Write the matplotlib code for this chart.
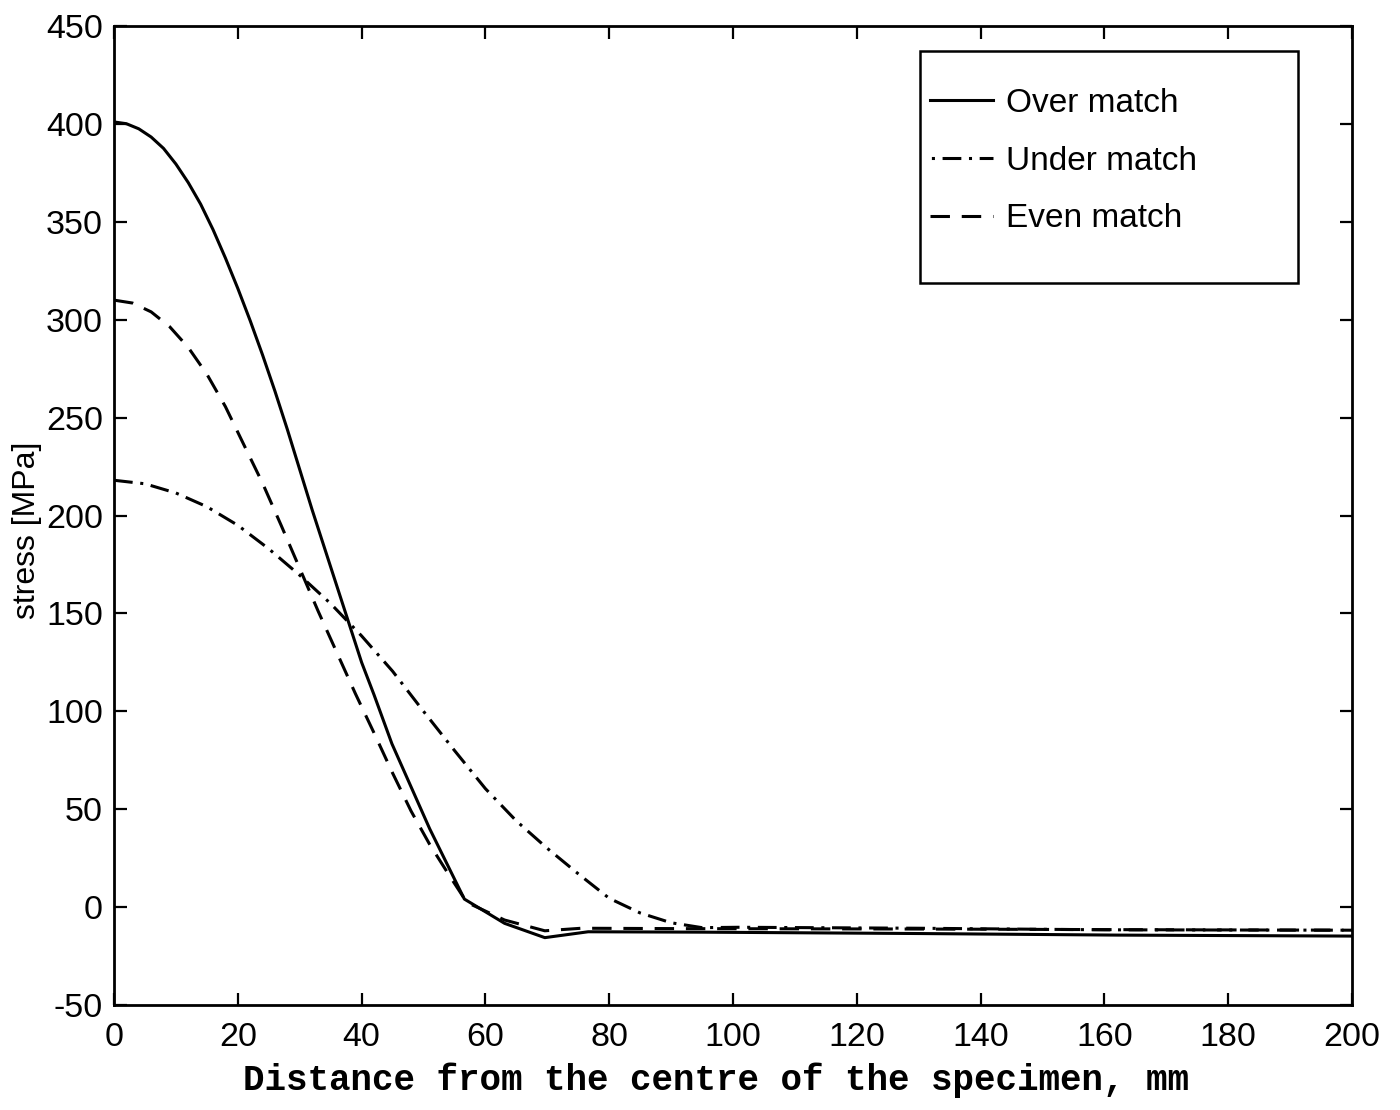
import matplotlib
matplotlib.use("Agg")
import matplotlib.pyplot as plt
from matplotlib.lines import Line2D
from matplotlib.patches import Rectangle

plt.rcParams['font.family'] = ['Liberation Sans', 'DejaVu Sans']
plt.rcParams['axes.unicode_minus'] = False
plt.rcParams['lines.scale_dashes'] = False

# ---- data ----
over_x = [0, 2, 4, 6, 8, 10, 12, 14, 16, 18, 20, 22, 24, 26, 28, 30, 32, 34, 36, 38,
          40, 42, 44.9, 51, 56.6, 63.1, 69.6, 76.6, 95, 130, 162, 200]
over_y = [401, 400.1, 397.5, 393.3, 387.5, 379.5, 370, 359, 346, 331.5, 316, 299.5, 282,
          263.5, 244, 223.5, 203, 183.5, 164, 144.5, 125, 108.5, 83.4, 40, 4.1, -8.3,
          -15.6, -12.6, -12.8, -13.5, -14.3, -14.8]

under_x = [0, 5, 10, 15, 20, 25, 30, 35, 40, 45, 50, 55, 60, 65, 70, 75, 80, 85, 90, 95,
           101, 130, 160, 200]
under_y = [218, 216.2, 211.5, 204.5, 195, 183, 169.5, 155, 138.5, 120.5, 100, 80, 60.5,
           44, 30, 17, 4.5, -3, -8, -10.5, -10.3, -10.8, -11.6, -11.8]

even_x = [0, 3, 6, 9, 12, 15, 18, 21, 24, 27, 30, 33, 36, 39, 42, 45, 48, 51, 54, 57,
          63.1, 69.6, 75.5, 91.7, 130, 160, 200]
even_y = [310, 308.5, 304, 296.4, 285.8, 272.2, 255.6, 236, 216.5, 195, 173, 151, 130,
          109, 89, 68.5, 49, 32, 17, 2.4, -6.6, -12.1, -10.8, -11, -11.2, -11.5, -11.8]

labels = ["Over match", "Under match", "Even match"]
xticks = list(range(0, 201, 20))
yticks = list(range(-50, 451, 50))

# ---- styles ----
LW = 2.2
DD = (13.5, 5.5, 2.2, 5.5)
solid = dict(color='black', lw=LW, linestyle='-')
dashdot = dict(color='black', lw=LW, linestyle=(0, DD), dash_capstyle='butt')
dashed = dict(color='black', lw=LW, linestyle=(0, (14, 8.5)), dash_capstyle='butt')

fig = plt.figure(figsize=(14, 11.1), dpi=100)
W, H = 1400, 1110
L, R, T, B = 114, 1352, 26, 1005
ax = fig.add_axes([L / W, 1 - B / H, (R - L) / W, (B - T) / H])

ax.plot(over_x, over_y, **solid)
ax.plot(under_x, under_y, **dashdot)
ax.plot(even_x, even_y, **dashed)

ax.set_xlim(0, 200)
ax.set_ylim(-50, 450)
ax.set_xticks(xticks)
ax.set_yticks(yticks)
ax.tick_params(direction='in', length=9, width=1.6, top=True, right=True,
               labelsize=24.5, pad=8)
ax.tick_params(axis='x', pad=12)
for s in ax.spines.values():
    s.set_linewidth(2.0)

ax.set_xlabel("Distance from the centre of the specimen, mm",
              fontfamily='Liberation Mono', fontsize=25.8, fontweight='bold')
ax.xaxis.set_label_coords((716 - L) / (R - L), (B - 1080) / (B - T))
ax.xaxis.label.set_va('center')
ax.set_ylabel("stress [MPa]", fontsize=23)
ax.yaxis.set_label_coords((27 - L) / (R - L), (B - 530) / (B - T))
ax.yaxis.label.set_va('center')
ax.yaxis.label.set_ha('center')

# legend
dd_leg = dict(dashdot)
dd_leg['linestyle'] = (DD[0] + DD[1] - 1, DD)
handles = [Line2D([], [], **solid), Line2D([], [], **dd_leg), Line2D([], [], **dashed)]
leg = ax.legend(handles, labels, loc='upper left',
                bbox_to_anchor=((930 - L) / (R - L), 1 - (88 - T) / (B - T)),
                borderaxespad=0, borderpad=0, frameon=False, fontsize=24,
                handlelength=1.9, handletextpad=0.38, labelspacing=0.8)
box_l, box_r, box_t, box_b = 920, 1298, 51, 283
ax.add_patch(Rectangle(((box_l - L) / (R - L), 1 - (box_b - T) / (B - T)),
                       (box_r - box_l) / (R - L), (box_b - box_t) / (B - T),
                       transform=ax.transAxes, fill=False, edgecolor='black',
                       lw=1.8, zorder=5))

fig.savefig("out.png", dpi=100)
